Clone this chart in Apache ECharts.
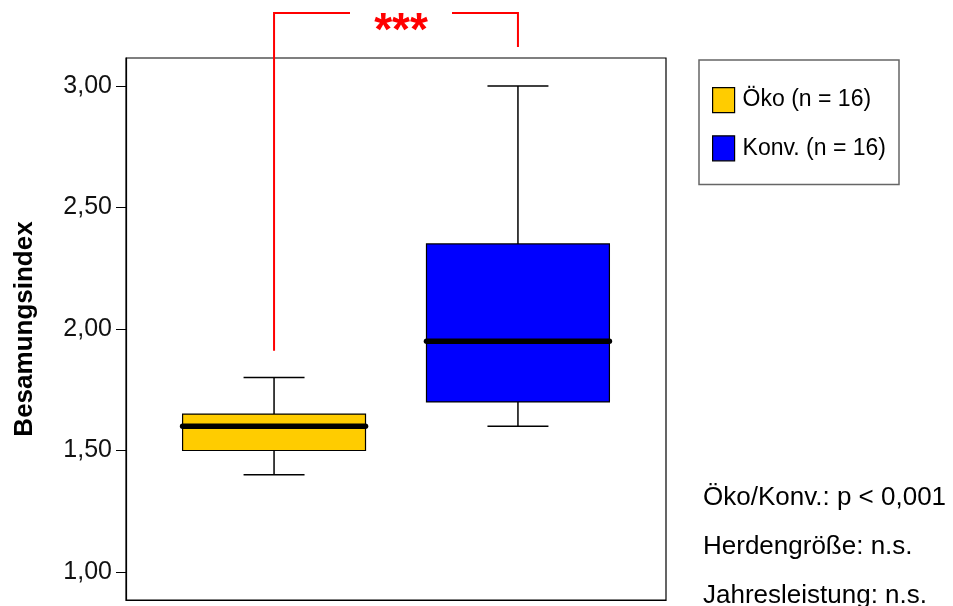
<!DOCTYPE html>
<html>
<head>
<meta charset="utf-8">
<script src="https://cdn.jsdelivr.net/npm/echarts@6/dist/echarts.min.js"></script>
<style>html,body{margin:0;padding:0;background:#fff}#c{width:953px;height:606px}</style>
</head>
<body>
<div id="c"></div>
<script>
// ---- data ----
const groups = ['Öko (n = 16)', 'Konv. (n = 16)'];
const positions = [1, 2];
const whiskerLow = [1.40, 1.60];
const q1 = [1.50, 1.70];
const median = [1.60, 1.95];
const q3 = [1.65, 2.35];
const whiskerHigh = [1.80, 3.00];
const yTicks = [1.00, 1.50, 2.00, 2.50, 3.00];
const bracketLeftBottom = 1.91;
const bracketTop = 3.30;
const bracketRightBottom = 3.16;
const sigText = '***';
const notes = ['Öko/Konv.: p < 0,001', 'Herdengröße: n.s.', 'Jahresleistung: n.s.'];
const yName = 'Besamungsindex';

const colors = ['#FFCC00', '#0000FF'];
const FONT = '"Liberation Sans", Arial, sans-serif';

function renderBox(params, api) {
  const x = api.value(0);
  const lo = api.coord([x, api.value(1)]);
  const b1 = api.coord([x, api.value(2)]);
  const md = api.coord([x, api.value(3)]);
  const b3 = api.coord([x, api.value(4)]);
  const hi = api.coord([x, api.value(5)]);
  const halfBox = api.size([0.75, 0])[0] / 2;
  const halfCap = api.size([0.25, 0])[0] / 2;
  const cx = lo[0];
  const ls = {stroke: '#000', lineWidth: 1.5};
  return {
    type: 'group',
    children: [
      {type: 'line', shape: {x1: cx, y1: lo[1], x2: cx, y2: b1[1]}, style: ls},
      {type: 'line', shape: {x1: cx, y1: b3[1], x2: cx, y2: hi[1]}, style: ls},
      {type: 'line', shape: {x1: cx - halfCap, y1: lo[1], x2: cx + halfCap, y2: lo[1]}, style: ls},
      {type: 'line', shape: {x1: cx - halfCap, y1: hi[1], x2: cx + halfCap, y2: hi[1]}, style: ls},
      {type: 'rect', shape: {x: cx - halfBox, y: b3[1], width: 2 * halfBox, height: b1[1] - b3[1]},
        style: {fill: api.visual('color'), stroke: '#000', lineWidth: 1.2}},
      {type: 'line', shape: {x1: cx - halfBox, y1: md[1], x2: cx + halfBox, y2: md[1]},
        style: {stroke: '#000', lineWidth: 5.5, lineCap: 'round'}}
    ]
  };
}

function renderBracket(params, api) {
  const l0 = api.coord([positions[0], bracketLeftBottom]);
  const lt = api.coord([positions[0], bracketTop]);
  const r0 = api.coord([positions[1], bracketRightBottom]);
  const rt = api.coord([positions[1], bracketTop]);
  const mid = (lt[0] + rt[0]) / 2 + 5;
  const gap = 51;
  const st = {stroke: '#FF0000', lineWidth: 2};
  return {
    type: 'group',
    children: [
      {type: 'polyline', shape: {points: [l0, lt, [mid - gap, lt[1]]]}, style: Object.assign({fill: null}, st)},
      {type: 'polyline', shape: {points: [[mid + gap, rt[1]], rt, r0]}, style: Object.assign({fill: null}, st)},
      {type: 'text', style: {text: sigText, x: mid, y: lt[1] + 19, align: 'center', verticalAlign: 'middle',
        fill: '#FF0000', font: 'bold 46px ' + FONT}}
    ]
  };
}

const series = groups.map((g, i) => ({
  name: g,
  type: 'custom',
  renderItem: renderBox,
  itemStyle: {color: colors[i], borderColor: '#000', borderWidth: 1},
  encode: {x: 0, y: [1, 2, 3, 4, 5]},
  data: [[positions[i], whiskerLow[i], q1[i], median[i], q3[i], whiskerHigh[i]]],
  z: 3
}));
series.push({
  name: 'bracket',
  type: 'custom',
  renderItem: renderBracket,
  clip: false,
  silent: true,
  encode: {x: 0, y: 1},
  data: [[positions[0], bracketTop]],
  z: 5
});

const chart = echarts.init(document.getElementById('c'), null, {renderer: 'canvas'});
chart.setOption({
  animation: false,
  backgroundColor: '#fff',
  grid: {left: 126, right: 287, top: 58, bottom: 6, show: true, borderColor: '#000', borderWidth: 1.2, containLabel: false},
  xAxis: {
    type: 'value', min: 0.393, max: 2.607,
    axisLine: {show: true, lineStyle: {color: '#000', width: 1.2}},
    axisTick: {show: false}, axisLabel: {show: false}, splitLine: {show: false}
  },
  yAxis: {
    type: 'value', min: 0.885, max: 3.115,
    name: yName, nameLocation: 'middle', nameGap: 88, nameRotate: 90,
    nameTextStyle: {fontFamily: FONT, fontSize: 26, fontWeight: 'bold', color: '#000'},
    axisLine: {show: true, lineStyle: {color: '#000', width: 1.2}},
    axisTick: {show: true, length: 10, customValues: yTicks, lineStyle: {color: '#000'}},
    axisLabel: {customValues: yTicks, margin: 14, fontFamily: FONT, fontSize: 25, color: '#111',
      formatter: v => v.toFixed(2).replace('.', ',')},
    splitLine: {show: false}
  },
  legend: {
    data: groups.map(g => ({name: g, icon: 'rect'})),
    orient: 'vertical', left: 699, top: 60,
    itemWidth: 22, itemHeight: 25, itemGap: 22,
    padding: [27, 13, 23, 13],
    borderColor: '#666', borderWidth: 1.5,
    textStyle: {fontFamily: FONT, fontSize: 23, lineHeight: 25, color: '#000', padding: [0, 0, 0, 3]},
    itemStyle: {borderColor: '#000', borderWidth: 1.2},
    selectedMode: false
  },
  graphic: notes.map((t, i) => ({
    type: 'text', left: 703, top: 485 + i * 49,
    style: {text: t, font: '26px ' + FONT, fill: '#000'}
  })),
  series: series
});
</script>
</body>
</html>
